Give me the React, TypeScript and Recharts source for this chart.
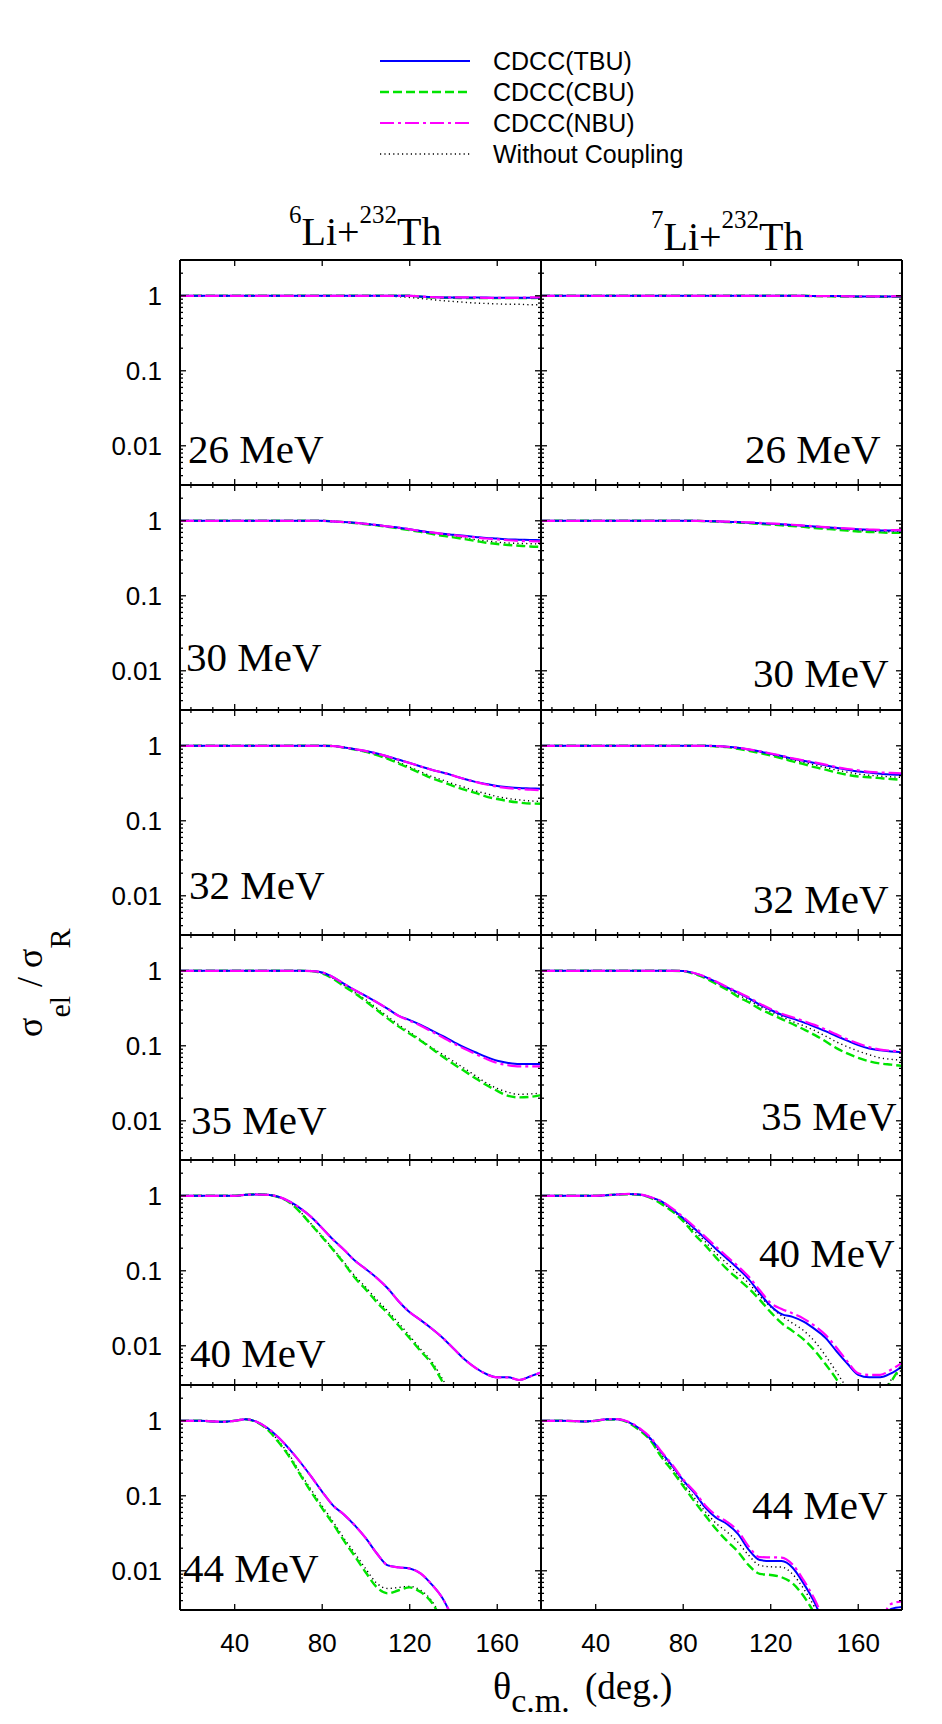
import React from 'react';
import { LineChart, Line, XAxis, YAxis } from 'recharts';

// ---------- axes ----------
const ANGLES = [15, 20, 25, 30, 35, 40, 45, 50, 55, 60, 65, 70, 75, 80, 85, 90, 95, 100, 105, 110, 115, 120, 125, 130, 135, 140, 145, 150, 155, 160, 165, 170, 175, 180];
const X_MAJOR = [40, 80, 120, 160];
const X_MINOR = [20, 30, 50, 60, 70, 90, 100, 110, 130, 140, 150, 170];
const Y_MAJOR = [0.01, 0.1, 1];
const Y_MINOR = [0.003, 0.004, 0.005, 0.006, 0.007, 0.008, 0.009, 0.02, 0.03, 0.04, 0.05, 0.06, 0.07, 0.08, 0.09, 0.2, 0.3, 0.4, 0.5, 0.6, 0.7, 0.8, 0.9, 2, 3];
const X_DOMAIN = [15, 180];
const Y_DOMAIN = [0.003, 3];

const SERIES_NAMES = ['CDCC(TBU)', 'CDCC(CBU)', 'CDCC(NBU)', 'Without Coupling'];
const ENERGIES = ['26 MeV', '30 MeV', '32 MeV', '35 MeV', '40 MeV', '44 MeV'];

const ones = (n: number) => Array(n).fill(1);
const nulls = (n: number) => Array(n).fill(null);

// ---------- 6Li + 232Th ----------
const li6_26_tbu = [...ones(22), 0.98, 0.96, 0.95, 0.95, 0.95, 0.95, 0.95, 0.94, 0.94, 0.94, 0.94, 0.95];
const li6_26_cbu = [...ones(22), 0.97, 0.95, 0.94, 0.94, 0.93, 0.93, 0.93, 0.93, 0.93, 0.93, 0.93, 0.94];
const li6_26_nbu = [...ones(22), 0.98, 0.96, 0.95, 0.95, 0.95, 0.95, 0.94, 0.94, 0.94, 0.94, 0.95, 0.95];
const li6_26_woc = [...ones(19), 0.99, 0.97, 0.95, 0.92, 0.89, 0.86, 0.84, 0.82, 0.8, 0.79, 0.78, 0.77, 0.77, 0.76, 0.76];

const li6_30_tbu = [...ones(14), 0.98, 0.96, 0.94, 0.91, 0.88, 0.84, 0.81, 0.77, 0.73, 0.7, 0.67, 0.65, 0.63, 0.61, 0.59, 0.58, 0.565, 0.56, 0.555, 0.55];
const li6_30_cbu = [...ones(14), 0.98, 0.96, 0.93, 0.9, 0.87, 0.83, 0.79, 0.75, 0.71, 0.67, 0.63, 0.6, 0.57, 0.54, 0.51, 0.49, 0.475, 0.465, 0.455, 0.45];
const li6_30_nbu = [...ones(14), 0.98, 0.96, 0.94, 0.91, 0.88, 0.84, 0.81, 0.77, 0.73, 0.7, 0.67, 0.645, 0.62, 0.6, 0.58, 0.565, 0.55, 0.54, 0.535, 0.53];
const li6_30_woc = [...ones(14), 0.98, 0.96, 0.935, 0.9, 0.87, 0.83, 0.8, 0.76, 0.72, 0.68, 0.65, 0.62, 0.59, 0.56, 0.54, 0.52, 0.505, 0.5, 0.495, 0.49];

const li6_32_tbu = [...ones(14), 0.99, 0.95, 0.9, 0.85, 0.79, 0.72, 0.65, 0.59, 0.53, 0.48, 0.44, 0.4, 0.36, 0.33, 0.31, 0.29, 0.28, 0.273, 0.27, 0.267];
const li6_32_cbu = [...ones(14), 0.99, 0.95, 0.89, 0.83, 0.75, 0.67, 0.58, 0.5, 0.43, 0.37, 0.33, 0.29, 0.26, 0.235, 0.21, 0.195, 0.183, 0.175, 0.17, 0.169];
const li6_32_nbu = [...ones(14), 0.99, 0.95, 0.9, 0.85, 0.79, 0.72, 0.65, 0.59, 0.53, 0.48, 0.44, 0.4, 0.36, 0.33, 0.305, 0.285, 0.272, 0.265, 0.26, 0.256];
const li6_32_woc = [...ones(14), 0.99, 0.95, 0.89, 0.83, 0.76, 0.68, 0.6, 0.52, 0.45, 0.39, 0.35, 0.31, 0.28, 0.25, 0.23, 0.21, 0.198, 0.19, 0.184, 0.181];

const li6_35_tbu = [...ones(12), 0.99, 0.95, 0.82, 0.67, 0.55, 0.46, 0.38, 0.31, 0.25, 0.22, 0.19, 0.16, 0.135, 0.113, 0.095, 0.082, 0.071, 0.063, 0.059, 0.057, 0.057, 0.057];
const li6_35_cbu = [...ones(12), 0.99, 0.92, 0.78, 0.62, 0.5, 0.39, 0.3, 0.23, 0.18, 0.145, 0.117, 0.092, 0.072, 0.057, 0.046, 0.037, 0.03, 0.025, 0.0215, 0.0205, 0.0208, 0.022];
const li6_35_nbu = [...ones(12), 0.99, 0.95, 0.82, 0.67, 0.55, 0.46, 0.38, 0.31, 0.25, 0.215, 0.185, 0.155, 0.13, 0.108, 0.091, 0.078, 0.067, 0.059, 0.055, 0.053, 0.053, 0.053];
const li6_35_woc = [...ones(12), 0.99, 0.93, 0.79, 0.64, 0.51, 0.41, 0.315, 0.245, 0.19, 0.152, 0.12, 0.095, 0.077, 0.062, 0.05, 0.04, 0.032, 0.027, 0.024, 0.0225, 0.0228, 0.0233];

const li6_40_tbu = [...ones(6), 1.03, 1.04, 1.03, 0.97, 0.84, 0.68, 0.52, 0.37, 0.26, 0.19, 0.136, 0.105, 0.08, 0.058, 0.039, 0.028, 0.022, 0.017, 0.0128, 0.0092, 0.0066, 0.0051, 0.0042, 0.0038, 0.0038, 0.0035, 0.0039, 0.0044];
const li6_40_cbu = [...ones(6), 1.03, 1.05, 1.03, 0.96, 0.815, 0.6, 0.41, 0.28, 0.19, 0.125, 0.08, 0.056, 0.038, 0.027, 0.0185, 0.0126, 0.0085, 0.0058, 0.0033, 0.0018, ...nulls(8)];
const li6_40_nbu = [...ones(6), 1.03, 1.04, 1.03, 0.97, 0.84, 0.68, 0.52, 0.37, 0.26, 0.19, 0.136, 0.105, 0.08, 0.058, 0.039, 0.028, 0.022, 0.017, 0.0128, 0.0092, 0.0066, 0.0051, 0.0042, 0.0038, 0.0038, 0.0035, 0.0039, 0.0044];
const li6_40_woc = [...ones(6), 1.03, 1.05, 1.03, 0.96, 0.82, 0.61, 0.42, 0.29, 0.195, 0.13, 0.085, 0.06, 0.041, 0.029, 0.02, 0.0135, 0.009, 0.0062, 0.0036, 0.002, ...nulls(8)];

const li6_44_tbu = [1, 1, 1, 0.98, 0.97, 1.0, 1.05, 0.97, 0.8, 0.6, 0.42, 0.28, 0.18, 0.113, 0.074, 0.056, 0.04, 0.027, 0.017, 0.0118, 0.0111, 0.0107, 0.0092, 0.0066, 0.0043, 0.0022, ...nulls(8)];
const li6_44_cbu = [1, 1, 1, 0.98, 0.97, 1.0, 1.05, 0.96, 0.76, 0.52, 0.33, 0.19, 0.112, 0.068, 0.042, 0.025, 0.0155, 0.0094, 0.006, 0.005, 0.0055, 0.006, 0.0052, 0.0038, 0.0021, ...nulls(9)];
const li6_44_nbu = [1, 1, 1, 0.98, 0.97, 1.0, 1.05, 0.97, 0.8, 0.6, 0.42, 0.28, 0.18, 0.113, 0.074, 0.056, 0.04, 0.027, 0.017, 0.0118, 0.0111, 0.0107, 0.0092, 0.0066, 0.0043, 0.0022, ...nulls(8)];
const li6_44_woc = [1, 1, 1, 0.98, 0.97, 1.0, 1.05, 0.965, 0.77, 0.54, 0.35, 0.2, 0.12, 0.073, 0.045, 0.027, 0.017, 0.0105, 0.0068, 0.0058, 0.006, 0.0062, 0.0055, 0.004, 0.0022, ...nulls(9)];

// ---------- 7Li + 232Th ----------
const li7_26_tbu = [...ones(25), 0.99, 0.99, 0.99, 0.985, 0.98, 0.98, 0.98, 0.98, 0.98];
const li7_26_cbu = [...ones(25), 0.99, 0.985, 0.98, 0.975, 0.97, 0.97, 0.97, 0.97, 0.97];
const li7_26_nbu = [...ones(25), 0.99, 0.99, 0.99, 0.985, 0.98, 0.98, 0.98, 0.985, 0.99];
const li7_26_woc = [...ones(25), 0.99, 0.99, 0.99, 0.985, 0.98, 0.98, 0.98, 0.98, 0.98];

const li7_30_tbu = [...ones(15), 0.99, 0.985, 0.97, 0.96, 0.945, 0.93, 0.91, 0.9, 0.88, 0.86, 0.84, 0.82, 0.8, 0.78, 0.77, 0.755, 0.745, 0.74, 0.74];
const li7_30_cbu = [...ones(15), 0.99, 0.98, 0.96, 0.95, 0.93, 0.91, 0.89, 0.87, 0.85, 0.83, 0.8, 0.78, 0.76, 0.74, 0.72, 0.71, 0.7, 0.69, 0.69];
const li7_30_nbu = [...ones(15), 0.99, 0.985, 0.975, 0.965, 0.95, 0.935, 0.92, 0.905, 0.885, 0.865, 0.845, 0.825, 0.805, 0.79, 0.775, 0.765, 0.755, 0.75, 0.755];
const li7_30_woc = [...ones(15), 0.99, 0.98, 0.965, 0.955, 0.94, 0.92, 0.9, 0.885, 0.865, 0.845, 0.82, 0.8, 0.78, 0.76, 0.745, 0.73, 0.72, 0.715, 0.715];

const li7_32_tbu = [...ones(16), 0.99, 0.97, 0.94, 0.89, 0.84, 0.78, 0.73, 0.67, 0.63, 0.59, 0.55, 0.51, 0.48, 0.455, 0.44, 0.425, 0.415, 0.41];
const li7_32_cbu = [...ones(16), 0.98, 0.96, 0.91, 0.86, 0.8, 0.74, 0.68, 0.62, 0.57, 0.52, 0.48, 0.44, 0.41, 0.39, 0.38, 0.37, 0.36, 0.352];
const li7_32_nbu = [...ones(16), 0.99, 0.97, 0.94, 0.895, 0.845, 0.79, 0.74, 0.68, 0.64, 0.6, 0.56, 0.52, 0.49, 0.47, 0.45, 0.44, 0.435, 0.43];
const li7_32_woc = [...ones(16), 0.985, 0.965, 0.925, 0.875, 0.82, 0.76, 0.7, 0.645, 0.6, 0.555, 0.515, 0.475, 0.445, 0.42, 0.405, 0.395, 0.385, 0.38];

const li7_35_tbu = [...ones(13), 0.99, 0.93, 0.83, 0.71, 0.6, 0.51, 0.43, 0.355, 0.3, 0.259, 0.23, 0.205, 0.18, 0.157, 0.135, 0.117, 0.102, 0.092, 0.087, 0.084, 0.082];
const li7_35_cbu = [...ones(13), 0.99, 0.91, 0.8, 0.67, 0.56, 0.45, 0.38, 0.31, 0.265, 0.227, 0.195, 0.166, 0.14, 0.115, 0.093, 0.079, 0.069, 0.062, 0.058, 0.056, 0.054];
const li7_35_nbu = [...ones(13), 0.99, 0.935, 0.84, 0.72, 0.61, 0.52, 0.44, 0.365, 0.31, 0.268, 0.24, 0.214, 0.19, 0.165, 0.142, 0.122, 0.107, 0.096, 0.089, 0.086, 0.084];
const li7_35_woc = [...ones(13), 0.99, 0.92, 0.815, 0.69, 0.58, 0.48, 0.405, 0.335, 0.285, 0.245, 0.21, 0.185, 0.16, 0.135, 0.113, 0.097, 0.085, 0.076, 0.069, 0.066, 0.064];

const li7_40_tbu = [...ones(6), 1.02, 1.04, 1.06, 1.04, 0.96, 0.84, 0.66, 0.5, 0.37, 0.27, 0.195, 0.145, 0.107, 0.077, 0.05, 0.034, 0.0264, 0.0243, 0.021, 0.0168, 0.0128, 0.0085, 0.0058, 0.0041, 0.0038, 0.0038, 0.0043, 0.0053];
const li7_40_cbu = [...ones(6), 1.02, 1.04, 1.05, 1.03, 0.94, 0.78, 0.62, 0.46, 0.31, 0.22, 0.15, 0.105, 0.078, 0.058, 0.041, 0.028, 0.02, 0.0157, 0.0122, 0.0087, 0.0057, 0.0036, 0.0021, 0.0013, 0.0011, 0.0018, 0.0033, 0.0056];
const li7_40_nbu = [...ones(6), 1.02, 1.04, 1.06, 1.04, 0.96, 0.85, 0.68, 0.52, 0.39, 0.285, 0.21, 0.155, 0.115, 0.083, 0.055, 0.037, 0.031, 0.027, 0.023, 0.0185, 0.014, 0.0095, 0.0062, 0.0043, 0.0041, 0.0041, 0.0048, 0.0059];
const li7_40_woc = [...ones(6), 1.02, 1.04, 1.055, 1.035, 0.95, 0.81, 0.64, 0.48, 0.34, 0.245, 0.17, 0.125, 0.092, 0.068, 0.046, 0.033, 0.025, 0.02, 0.016, 0.0115, 0.0074, 0.0045, 0.0027, 0.0018, 0.0016, 0.0022, 0.0035, 0.0048];

const li7_44_tbu = [1, 1, 1, 0.99, 0.98, 1.0, 1.05, 1.05, 0.96, 0.79, 0.58, 0.38, 0.25, 0.16, 0.11, 0.07, 0.051, 0.042, 0.031, 0.019, 0.0139, 0.0135, 0.0135, 0.011, 0.0068, 0.0038, 0.0018, 0.001, 0.0007, 0.0006, 0.0008, 0.0018, 0.0031, 0.0033];
const li7_44_cbu = [1, 1, 1, 0.99, 0.98, 1.0, 1.04, 1.04, 0.94, 0.75, 0.55, 0.33, 0.215, 0.135, 0.085, 0.055, 0.036, 0.025, 0.018, 0.0118, 0.0091, 0.0088, 0.0082, 0.0068, 0.0046, 0.0027, 0.0014, ...nulls(7)];
const li7_44_nbu = [1, 1, 1, 0.99, 0.98, 1.0, 1.05, 1.05, 0.97, 0.8, 0.6, 0.39, 0.26, 0.165, 0.115, 0.075, 0.055, 0.045, 0.034, 0.021, 0.0152, 0.0151, 0.015, 0.0121, 0.0075, 0.0042, 0.002, 0.0011, 0.0008, 0.0007, 0.001, 0.002, 0.0036, 0.0039];
const li7_44_woc = [1, 1, 1, 0.99, 0.98, 1.0, 1.045, 1.045, 0.95, 0.77, 0.56, 0.35, 0.23, 0.145, 0.095, 0.062, 0.043, 0.033, 0.024, 0.016, 0.0118, 0.0113, 0.0112, 0.009, 0.0058, 0.0033, 0.0017, ...nulls(7)];

const LEFT_PANELS = [
  [li6_26_tbu, li6_26_cbu, li6_26_nbu, li6_26_woc],
  [li6_30_tbu, li6_30_cbu, li6_30_nbu, li6_30_woc],
  [li6_32_tbu, li6_32_cbu, li6_32_nbu, li6_32_woc],
  [li6_35_tbu, li6_35_cbu, li6_35_nbu, li6_35_woc],
  [li6_40_tbu, li6_40_cbu, li6_40_nbu, li6_40_woc],
  [li6_44_tbu, li6_44_cbu, li6_44_nbu, li6_44_woc],
];
const RIGHT_PANELS = [
  [li7_26_tbu, li7_26_cbu, li7_26_nbu, li7_26_woc],
  [li7_30_tbu, li7_30_cbu, li7_30_nbu, li7_30_woc],
  [li7_32_tbu, li7_32_cbu, li7_32_nbu, li7_32_woc],
  [li7_35_tbu, li7_35_cbu, li7_35_nbu, li7_35_woc],
  [li7_40_tbu, li7_40_cbu, li7_40_nbu, li7_40_woc],
  [li7_44_tbu, li7_44_cbu, li7_44_nbu, li7_44_woc],
];

// ---------- layout / style ----------
const PLOT_X0 = 180;
const PLOT_W = 361;
const PLOT_Y0 = 260;
const PLOT_H = 225;
const SERIF = '"Liberation Serif", "Times New Roman", serif';
const SANS = '"Liberation Sans", Arial, sans-serif';

const STYLES = [
  { key: 'woc', stroke: '#000000', width: 1.4, dash: '1.2 3.2' },
  { key: 'cbu', stroke: '#00e400', width: 2.4, dash: '9 4' },
  { key: 'tbu', stroke: '#0000ff', width: 2, dash: undefined },
  { key: 'nbu', stroke: '#ff00ff', width: 2.2, dash: '14 4 3 4' },
];
const LEGEND_STYLES = [STYLES[2], STYLES[1], STYLES[3], STYLES[0]];

// left-label positions (x, baseline y) of the energy labels
const LABEL_POS_LEFT = [[188, 463], [186, 671], [189, 899], [191, 1134], [190, 1367], [183, 1582]];
const LABEL_POS_RIGHT = [[745, 463], [753, 687], [753, 913], [761, 1130], [759, 1267], [752, 1519]];

const TICK_STROKE = { stroke: '#000', strokeWidth: 1.3 };

function BottomTick(p: any) {
  const { x, y, payload, showLabel, showMinor } = p;
  const v = payload.value;
  const major = X_MAJOR.includes(v);
  if (!major && !showMinor) return <g />;
  return (
    <g>
      <line x1={x} x2={x} y1={y} y2={y - (major ? 6 : 3)} {...TICK_STROKE} />
      {major && showLabel ? (
        <text x={x} y={y + 42} textAnchor="middle" fontFamily={SANS} fontSize={26} fill="#000">{v}</text>
      ) : null}
    </g>
  );
}
function TopTick(p: any) {
  const { x, y, payload, showMinor } = p;
  const major = X_MAJOR.includes(payload.value);
  if (!major && !showMinor) return <g />;
  return <line x1={x} x2={x} y1={y} y2={y + (major ? 6 : 3)} {...TICK_STROKE} />;
}
function LeftTick(p: any) {
  const { x, y, payload, showLabel } = p;
  const v = payload.value;
  const major = Y_MAJOR.includes(v);
  return (
    <g>
      <line x1={x} x2={x + (major ? 6 : 3)} y1={y} y2={y} {...TICK_STROKE} />
      {major && showLabel ? (
        <text x={x - 18} y={y} dy="0.36em" textAnchor="end" fontFamily={SANS} fontSize={26} fill="#000">{String(v)}</text>
      ) : null}
    </g>
  );
}
function RightTick(p: any) {
  const { x, y, payload } = p;
  const major = Y_MAJOR.includes(payload.value);
  return <line x1={x} x2={x - (major ? 6 : 3)} y1={y} y2={y} {...TICK_STROKE} />;
}

function Panel({ row, col, series }: { row: number; col: number; series: any[] }) {
  const isLeft = col === 0;
  const isBottom = row === 5;
  const ml = 90, mr = 10, mt = 10, mb = 60;
  const left = PLOT_X0 + col * PLOT_W;
  const top = PLOT_Y0 + row * PLOT_H;
  const [tbu, cbu, nbu, woc] = series;
  const data = ANGLES.map((a, i) => ({ angle: a, tbu: tbu[i], cbu: cbu[i], nbu: nbu[i], woc: woc[i] }));
  const axisLine = { stroke: '#000', strokeWidth: 2 };
  return (
    <div style={{ position: 'absolute', left: left - ml, top: top - mt }}>
      <LineChart width={PLOT_W + ml + mr} height={PLOT_H + mt + mb} data={data} margin={{ top: mt - 1, right: mr - 1, bottom: mb - 1, left: ml - 1 }}>
        <XAxis xAxisId="b" dataKey="angle" type="number" domain={X_DOMAIN} allowDataOverflow ticks={[...X_MAJOR, ...X_MINOR]} interval={0}
          height={1} tickSize={0} tickMargin={0} tickLine={false} axisLine={axisLine}
          tick={(p: any) => <BottomTick {...p} showLabel={isBottom} showMinor={!isBottom} />} />
        <XAxis xAxisId="t" orientation="top" dataKey="angle" type="number" domain={X_DOMAIN} allowDataOverflow ticks={[...X_MAJOR, ...X_MINOR]} interval={0}
          height={1} tickSize={0} tickMargin={0} tickLine={false} axisLine={axisLine}
          tick={(p: any) => <TopTick {...p} showMinor={row > 0} />} />
        <YAxis yAxisId="l" scale="log" type="number" domain={Y_DOMAIN} allowDataOverflow ticks={[...Y_MAJOR, ...Y_MINOR]} interval={0}
          width={1} tickSize={0} tickMargin={0} tickLine={false} axisLine={axisLine}
          tick={(p: any) => <LeftTick {...p} showLabel={isLeft} />} />
        <YAxis yAxisId="r" orientation="right" scale="log" type="number" domain={Y_DOMAIN} allowDataOverflow ticks={[...Y_MAJOR, ...Y_MINOR]} interval={0}
          width={1} tickSize={0} tickMargin={0} tickLine={false} axisLine={axisLine}
          tick={(p: any) => <RightTick {...p} />} />
        {STYLES.map((s) => (
          <Line key={s.key} xAxisId="b" yAxisId="l" type="monotone" dataKey={s.key} stroke={s.stroke} strokeWidth={s.width}
            strokeDasharray={s.dash} dot={false} activeDot={false} connectNulls={false} isAnimationActive={false} />
        ))}
      </LineChart>
    </div>
  );
}

function Overlay() {
  const legendY = [61, 92, 123, 154];
  return (
    <svg width={942} height={1724} style={{ position: 'absolute', left: 0, top: 0, pointerEvents: 'none' }}>
      {/* legend */}
      {LEGEND_STYLES.map((s, i) => (
        <g key={s.key}>
          <line x1={380} x2={470} y1={legendY[i]} y2={legendY[i]} stroke={s.stroke} strokeWidth={s.width} strokeDasharray={s.dash} />
          <text x={493} y={legendY[i] + 9} fontFamily={SANS} fontSize={25} fill="#000">{SERIES_NAMES[i]}</text>
        </g>
      ))}
      {/* column titles */}
      <text x={289} y={245} fontFamily={SERIF} fontSize={40} fill="#000">
        <tspan fontSize={25} dy={-22}>6</tspan><tspan dy={22}>Li+</tspan><tspan fontSize={25} dy={-22}>232</tspan><tspan dy={22}>Th</tspan>
      </text>
      <text x={651} y={250} fontFamily={SERIF} fontSize={40} fill="#000">
        <tspan fontSize={25} dy={-22}>7</tspan><tspan dy={22}>Li+</tspan><tspan fontSize={25} dy={-22}>232</tspan><tspan dy={22}>Th</tspan>
      </text>
      {/* energy labels */}
      {ENERGIES.map((e, r) => (
        <g key={e}>
          <text x={LABEL_POS_LEFT[r][0]} y={LABEL_POS_LEFT[r][1]} fontFamily={SERIF} fontSize={41} fill="#000">{e}</text>
          <text x={LABEL_POS_RIGHT[r][0]} y={LABEL_POS_RIGHT[r][1]} fontFamily={SERIF} fontSize={41} fill="#000">{e}</text>
        </g>
      ))}
      {/* y axis title */}
      <text transform="translate(42,1037) rotate(-90)" fontFamily={SERIF} fontSize={36} fill="#000">
        σ<tspan dy={28} fontSize={30}>el</tspan><tspan dy={-28}> / σ</tspan><tspan dy={28} fontSize={30}>R</tspan>
      </text>
      {/* x axis title */}
      <text x={493} y={1699} fontFamily={SERIF} fontSize={38} fill="#000">
        θ<tspan dy={12.5} fontSize={34}>c.m.</tspan><tspan x={585} dy={-12.5} fontSize={37}>(deg.)</tspan>
      </text>
    </svg>
  );
}

export default function App() {
  return (
    <div style={{ position: 'absolute', left: 0, top: 0, width: 942, height: 1724, background: '#fff', overflow: 'hidden' }}>
      {LEFT_PANELS.map((s, r) => <Panel key={'l' + r} row={r} col={0} series={s} />)}
      {RIGHT_PANELS.map((s, r) => <Panel key={'r' + r} row={r} col={1} series={s} />)}
      <Overlay />
    </div>
  );
}
